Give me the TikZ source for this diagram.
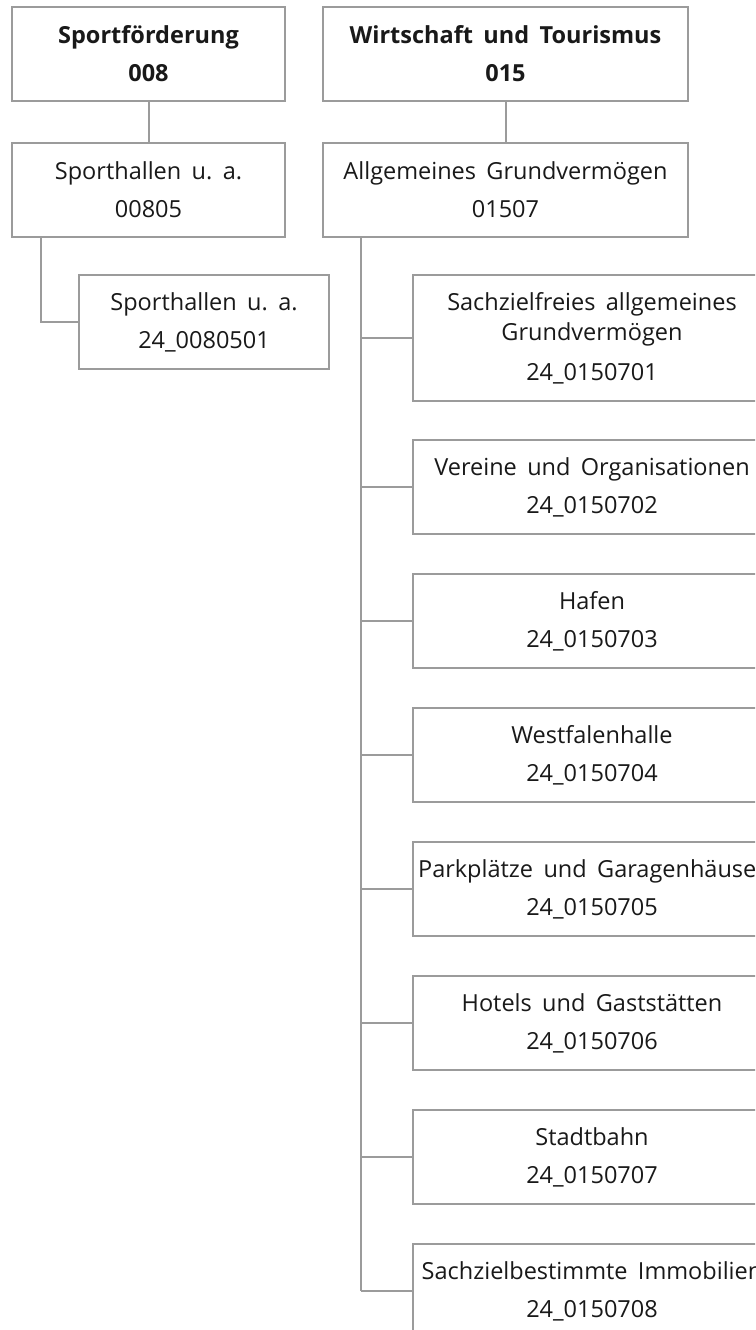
\documentclass[tikz,border=0pt]{standalone}
\usepackage{fontspec}
\setmainfont[WordSpace=1.7]{Open Sans}
\definecolor{linegray}{RGB}{155,155,155}
\definecolor{txt}{RGB}{25,25,25}
\tikzset{
  box/.style={draw=linegray, line width=2pt, fill=white, inner sep=0pt, align=center,
    text=txt, font=\fontsize{23.5}{30}\selectfont},
  wide/.style={minimum width=273pt, minimum height=94pt},
  wider/.style={minimum width=365pt, minimum height=94pt},
  child/.style={minimum width=358pt, minimum height=94pt},
  conn/.style={draw=linegray, line width=2pt},
  trunk/.style={draw=linegray, line width=2.6pt}
}
\begin{document}
\begin{tikzpicture}[x=1pt,y=-1pt]
\useasboundingbox (0,0) rectangle (755,1330);
\clip (0,0) rectangle (755,1330);
\fill[white] (0,0) rectangle (755,1330);

% left column
\node[box,wide] (sf) at (148.5,54) {\textbf{Sportförderung}\\[8pt]\textbf{008}};
\node[box,wide] (sh) at (148.5,189.5) {Sporthallen u.\ a.\\[8pt]00805};
\node[box,minimum width=250pt,minimum height=94pt] (sh1) at (204,322) {Sporthallen u.\ a.\\[8pt]24\_0080501};
\draw[conn] (sf.south) -- (sh.north);
\coordinate (l0) at (41,236);
\draw[conn] (l0) |- (sh1.west);

% right column
\node[box,wider] (wt) at (505.5,54) {\textbf{Wirtschaft und Tourismus}\\[8pt]\textbf{015}};
\node[box,wider] (ag) at (505.5,189.5) {Allgemeines Grundvermögen\\[8pt]01507};
\draw[conn] (wt.south) -- (ag.north);

\node[box,minimum width=358pt,minimum height=126pt] (c1) at (592,338) {Sachzielfreies allgemeines\\Grundvermögen\\[10pt]24\_0150701};
\node[box,child] (c2) at (592,487) {Vereine und Organisationen\\[8pt]24\_0150702};
\node[box,child] (c3) at (592,621) {Hafen\\[8pt]24\_0150703};
\node[box,child] (c4) at (592,755) {Westfalenhalle\\[8pt]24\_0150704};
\node[box,child] (c5) at (592,889) {Parkplätze und Garagenhäuser\\[8pt]24\_0150705};
\node[box,child] (c6) at (592,1023) {Hotels und Gaststätten\\[8pt]24\_0150706};
\node[box,child] (c7) at (592,1157) {Stadtbahn\\[8pt]24\_0150707};
\node[box,child] (c8) at (592,1291) {Sachzielbestimmte Immobilien\\[8pt]24\_0150708};

\coordinate (t0) at (361,236);
\draw[trunk] (t0) -- (t0 |- c8.west);
\foreach \c in {c1,c2,c3,c4,c5,c6,c7,c8}{
  \draw[conn] (t0 |- \c.west) -- (\c.west);
}
\end{tikzpicture}
\end{document}
